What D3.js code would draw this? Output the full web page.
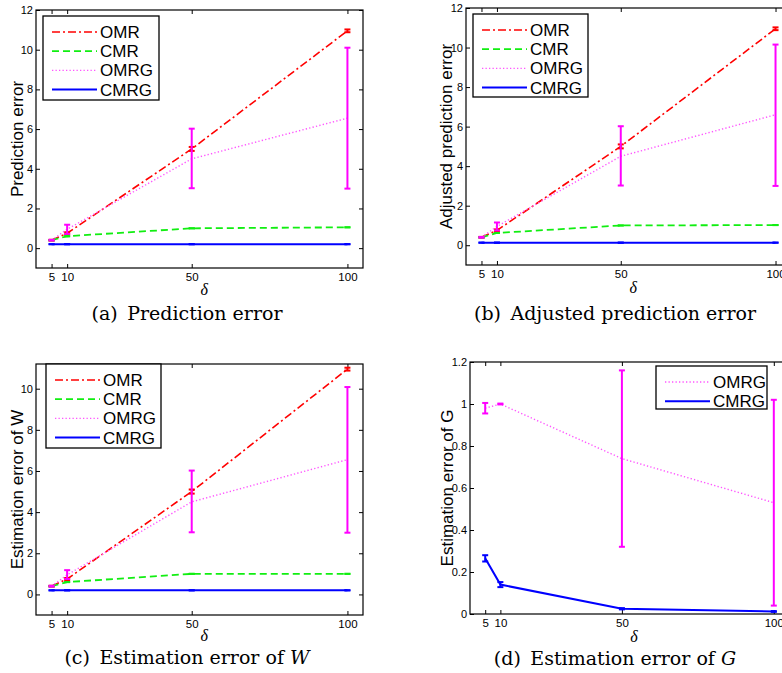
<!DOCTYPE html>
<html>
<head>
<meta charset="utf-8">
<script src="https://cdn.jsdelivr.net/npm/d3@7"></script>
<style>
  body { margin: 0; background: #fff; }
  svg { display: block; }
  .tick text { font-family: "Liberation Sans", Arial, sans-serif; }
</style>
</head>
<body>
<div id="chart"></div>
<script>
// delta values on the x axis
var deltas = [5, 10, 50, 100];
var xTickValues = [5, 10, 50, 100];
var yTicksErr = [0, 2, 4, 6, 8, 10, 12];
var yTicksErrW = [0, 2, 4, 6, 8, 10];
var yTicksG = [0, 0.2, 0.4, 0.6, 0.8, 1, 1.2];

// (a) prediction error
var predOMR = [0.4, 0.75, 5.0, 10.95];
var predOMRLo = [0.38, 0.7, 4.9, 10.88];
var predOMRHi = [0.42, 0.8, 5.1, 11.02];
var predCMR = [0.4, 0.6, 1.0, 1.05];
var predCMRG = [0.2, 0.2, 0.2, 0.2];
var predOMRG = [0.4, 0.95, 4.5, 6.55];
var predOMRGLo = [0.38, 0.72, 3.02, 3.0];
var predOMRGHi = [0.42, 1.18, 6.02, 10.1];

// (b) adjusted prediction error
var adjOMR = [0.4, 0.75, 5.0, 10.95];
var adjOMRLo = [0.38, 0.7, 4.9, 10.88];
var adjOMRHi = [0.42, 0.8, 5.1, 11.02];
var adjCMR = [0.4, 0.62, 1.0, 1.02];
var adjCMRG = [0.13, 0.13, 0.13, 0.13];
var adjOMRG = [0.4, 0.95, 4.5, 6.6];
var adjOMRGLo = [0.38, 0.75, 3.02, 3.0];
var adjOMRGHi = [0.42, 1.15, 6.02, 10.15];

// (c) estimation error of W
var estWOMR = [0.4, 0.75, 5.0, 10.95];
var estWOMRLo = [0.38, 0.7, 4.9, 10.88];
var estWOMRHi = [0.42, 0.8, 5.1, 11.02];
var estWCMR = [0.4, 0.6, 1.0, 1.0];
var estWCMRG = [0.2, 0.2, 0.2, 0.2];
var estWOMRG = [0.4, 0.95, 4.5, 6.55];
var estWOMRGLo = [0.38, 0.75, 3.02, 3.0];
var estWOMRGHi = [0.42, 1.18, 6.02, 10.08];

// (d) estimation error of G
var estGOMRG = [0.98, 1.0, 0.74, 0.53];
var estGOMRGLo = [0.955, 0.998, 0.32, 0.04];
var estGOMRGHi = [1.005, 1.002, 1.16, 1.02];
var estGCMRG = [0.265, 0.14, 0.025, 0.012];
var estGCMRGLo = [0.25, 0.128, 0.022, 0.01];
var estGCMRGHi = [0.28, 0.152, 0.028, 0.014];

var W = 782, H = 673;
var svg = d3.select('#chart').append('svg')
  .attr('width', W)
  .attr('height', H);

var styles = {
  OMR:  { color: '#ff0000', dash: '8,3,2,3', width: 1.6 },
  CMR:  { color: '#11ee11', dash: '7,4', width: 1.8 },
  OMRG: { color: '#ff55ff', dash: '1.3,2.2', width: 1.4 },
  CMRG: { color: '#0000ff', dash: null, width: 2 }
};
var barColor = { OMR: '#ff0000', CMR: '#11ee11', OMRG: '#ff00ff', CMRG: '#0000ff' };

function mkSeries(name, v, lo, hi) {
  return { name: name, values: v, lo: lo || v, hi: hi || v };
}

function drawPanel(p) {
  var x = d3.scaleLinear().domain([0, 105]).range([p.left, p.left + p.w]);
  var y = d3.scaleLinear().domain(p.yDomain).range([p.top + p.h, p.top]);
  var g = svg.append('g');

  // frame
  g.append('rect')
    .attr('x', p.left).attr('y', p.top)
    .attr('width', p.w).attr('height', p.h)
    .attr('fill', 'none').attr('stroke', '#000').attr('stroke-width', 1.2);

  // axes with inward ticks
  g.append('g')
    .attr('transform', 'translate(0,' + (p.top + p.h) + ')')
    .call(d3.axisBottom(x).tickValues(xTickValues).tickSize(-4).tickPadding(5))
    .call(function (a) { a.select('.domain').remove(); })
    .selectAll('text').style('font-size', '11.5px');
  g.append('g')
    .attr('transform', 'translate(0,' + p.top + ')')
    .call(d3.axisTop(x).tickValues(xTickValues).tickSize(-4).tickFormat(''))
    .call(function (a) { a.select('.domain').remove(); });
  g.append('g')
    .attr('transform', 'translate(' + p.left + ',0)')
    .call(d3.axisLeft(y).tickValues(p.yTicks).tickSize(-4).tickPadding(3)
      .tickFormat(d3.format('~g')))
    .call(function (a) { a.select('.domain').remove(); })
    .selectAll('text').style('font-size', '11px');
  g.append('g')
    .attr('transform', 'translate(' + (p.left + p.w) + ',0)')
    .call(d3.axisRight(y).tickValues(p.yTicks).tickSize(-4).tickFormat(''))
    .call(function (a) { a.select('.domain').remove(); });

  var line = d3.line()
    .x(function (d) { return x(d[0]); })
    .y(function (d) { return y(d[1]); });

  p.series.forEach(function (s) {
    var st = styles[s.name];
    var pts = deltas.map(function (d, i) { return [d, s.values[i]]; });
    g.append('path')
      .attr('d', line(pts))
      .attr('fill', 'none')
      .attr('stroke', st.color)
      .attr('stroke-width', st.width)
      .attr('stroke-dasharray', st.dash);

    // error bars
    var eb = g.selectAll(null)
      .data(deltas.map(function (d, i) { return { x: d, lo: s.lo[i], hi: s.hi[i] }; }))
      .enter().append('g');
    eb.append('line')
      .attr('x1', function (d) { return x(d.x); })
      .attr('x2', function (d) { return x(d.x); })
      .attr('y1', function (d) { return y(d.lo); })
      .attr('y2', function (d) { return y(d.hi); })
      .attr('stroke', barColor[s.name]).attr('stroke-width', 2);
    ['lo', 'hi'].forEach(function (k) {
      eb.append('line')
        .attr('x1', function (d) { return x(d.x) - 3; })
        .attr('x2', function (d) { return x(d.x) + 3; })
        .attr('y1', function (d) { return y(d[k]); })
        .attr('y2', function (d) { return y(d[k]); })
        .attr('stroke', barColor[s.name]).attr('stroke-width', 2);
    });
  });

  // legend
  var lg = g.append('g');
  lg.append('rect')
    .attr('x', p.legend.x).attr('y', p.legend.y)
    .attr('width', p.legend.w).attr('height', p.legend.h)
    .attr('fill', '#fff').attr('stroke', '#000').attr('stroke-width', 1.3);
  p.legend.names.forEach(function (n, i) {
    var st = styles[n];
    var yy = p.legend.y + 16 + i * 19.2;
    lg.append('line')
      .attr('x1', p.legend.x + 9).attr('x2', p.legend.x + 54)
      .attr('y1', yy).attr('y2', yy)
      .attr('stroke', st.color)
      .attr('stroke-width', st.width)
      .attr('stroke-dasharray', st.dash);
    lg.append('text')
      .attr('x', p.legend.x + 57).attr('y', yy + 6)
      .style('font-family', '"Liberation Sans", Arial, sans-serif')
      .style('font-size', '17px')
      .text(n);
  });

  // axis titles
  g.append('text')
    .attr('transform', 'translate(' + p.ylabelX + ',' + (p.top + p.h / 2) + ') rotate(-90)')
    .attr('text-anchor', 'middle')
    .style('font-family', '"Liberation Sans", Arial, sans-serif')
    .style('font-size', '17px')
    .text(p.ylabel);
  g.append('text')
    .attr('x', x(54)).attr('y', p.deltaY)
    .attr('text-anchor', 'middle')
    .style('font-family', '"Liberation Serif", serif')
    .style('font-style', 'italic')
    .style('font-size', '16px')
    .text('δ');

  // caption
  var cap = g.append('text')
    .attr('x', p.capX).attr('y', p.capY)
    .attr('text-anchor', 'middle')
    .style('font-family', '"DejaVu Serif", serif')
    .style('font-size', '19px');
  cap.append('tspan').text(p.caption[0]);
  if (p.caption[1]) {
    cap.append('tspan').style('font-style', 'italic').text(p.caption[1]);
  }
}

drawPanel({
  left: 36, top: 10, w: 327, h: 258, yDomain: [-1, 12], yTicks: yTicksErr,
  series: [mkSeries('OMR', predOMR, predOMRLo, predOMRHi), mkSeries('CMR', predCMR),
    mkSeries('OMRG', predOMRG, predOMRGLo, predOMRGHi), mkSeries('CMRG', predCMRG)],
  legend: { x: 43, y: 16, w: 116, h: 84, names: ['OMR', 'CMR', 'OMRG', 'CMRG'] },
  ylabel: 'Prediction error', ylabelX: 23, deltaY: 295,
  caption: ['(a)\u2002Prediction error'], capX: 187, capY: 320
});

drawPanel({
  left: 466, top: 8, w: 325, h: 257, yDomain: [-1, 12], yTicks: yTicksErr,
  series: [mkSeries('OMR', adjOMR, adjOMRLo, adjOMRHi), mkSeries('CMR', adjCMR),
    mkSeries('OMRG', adjOMRG, adjOMRGLo, adjOMRGHi), mkSeries('CMRG', adjCMRG)],
  legend: { x: 473, y: 14, w: 115, h: 83, names: ['OMR', 'CMR', 'OMRG', 'CMRG'] },
  ylabel: 'Adjusted prediction error', ylabelX: 452, deltaY: 293,
  caption: ['(b)\u2002Adjusted prediction error'], capX: 615, capY: 320
});

drawPanel({
  left: 36, top: 364, w: 327, h: 251, yDomain: [-1, 11.2], yTicks: yTicksErrW,
  series: [mkSeries('OMR', estWOMR, estWOMRLo, estWOMRHi), mkSeries('CMR', estWCMR),
    mkSeries('OMRG', estWOMRG, estWOMRGLo, estWOMRGHi), mkSeries('CMRG', estWCMRG)],
  legend: { x: 46, y: 364, w: 115, h: 84, names: ['OMR', 'CMR', 'OMRG', 'CMRG'] },
  ylabel: 'Estimation error of W', ylabelX: 23, deltaY: 641,
  caption: ['(c)\u2002Estimation error of ', 'W'], capX: 187, capY: 664
});

drawPanel({
  left: 470, top: 362, w: 319, h: 252, yDomain: [0, 1.2], yTicks: yTicksG,
  series: [mkSeries('OMRG', estGOMRG, estGOMRGLo, estGOMRGHi),
    mkSeries('CMRG', estGCMRG, estGCMRGLo, estGCMRGHi)],
  legend: { x: 656, y: 366, w: 111, h: 43, names: ['OMRG', 'CMRG'] },
  ylabel: 'Estimation error of G', ylabelX: 453, deltaY: 642,
  caption: ['(d)\u2002Estimation error of ', 'G'], capX: 615, capY: 665
});
</script>
</body>
</html>
